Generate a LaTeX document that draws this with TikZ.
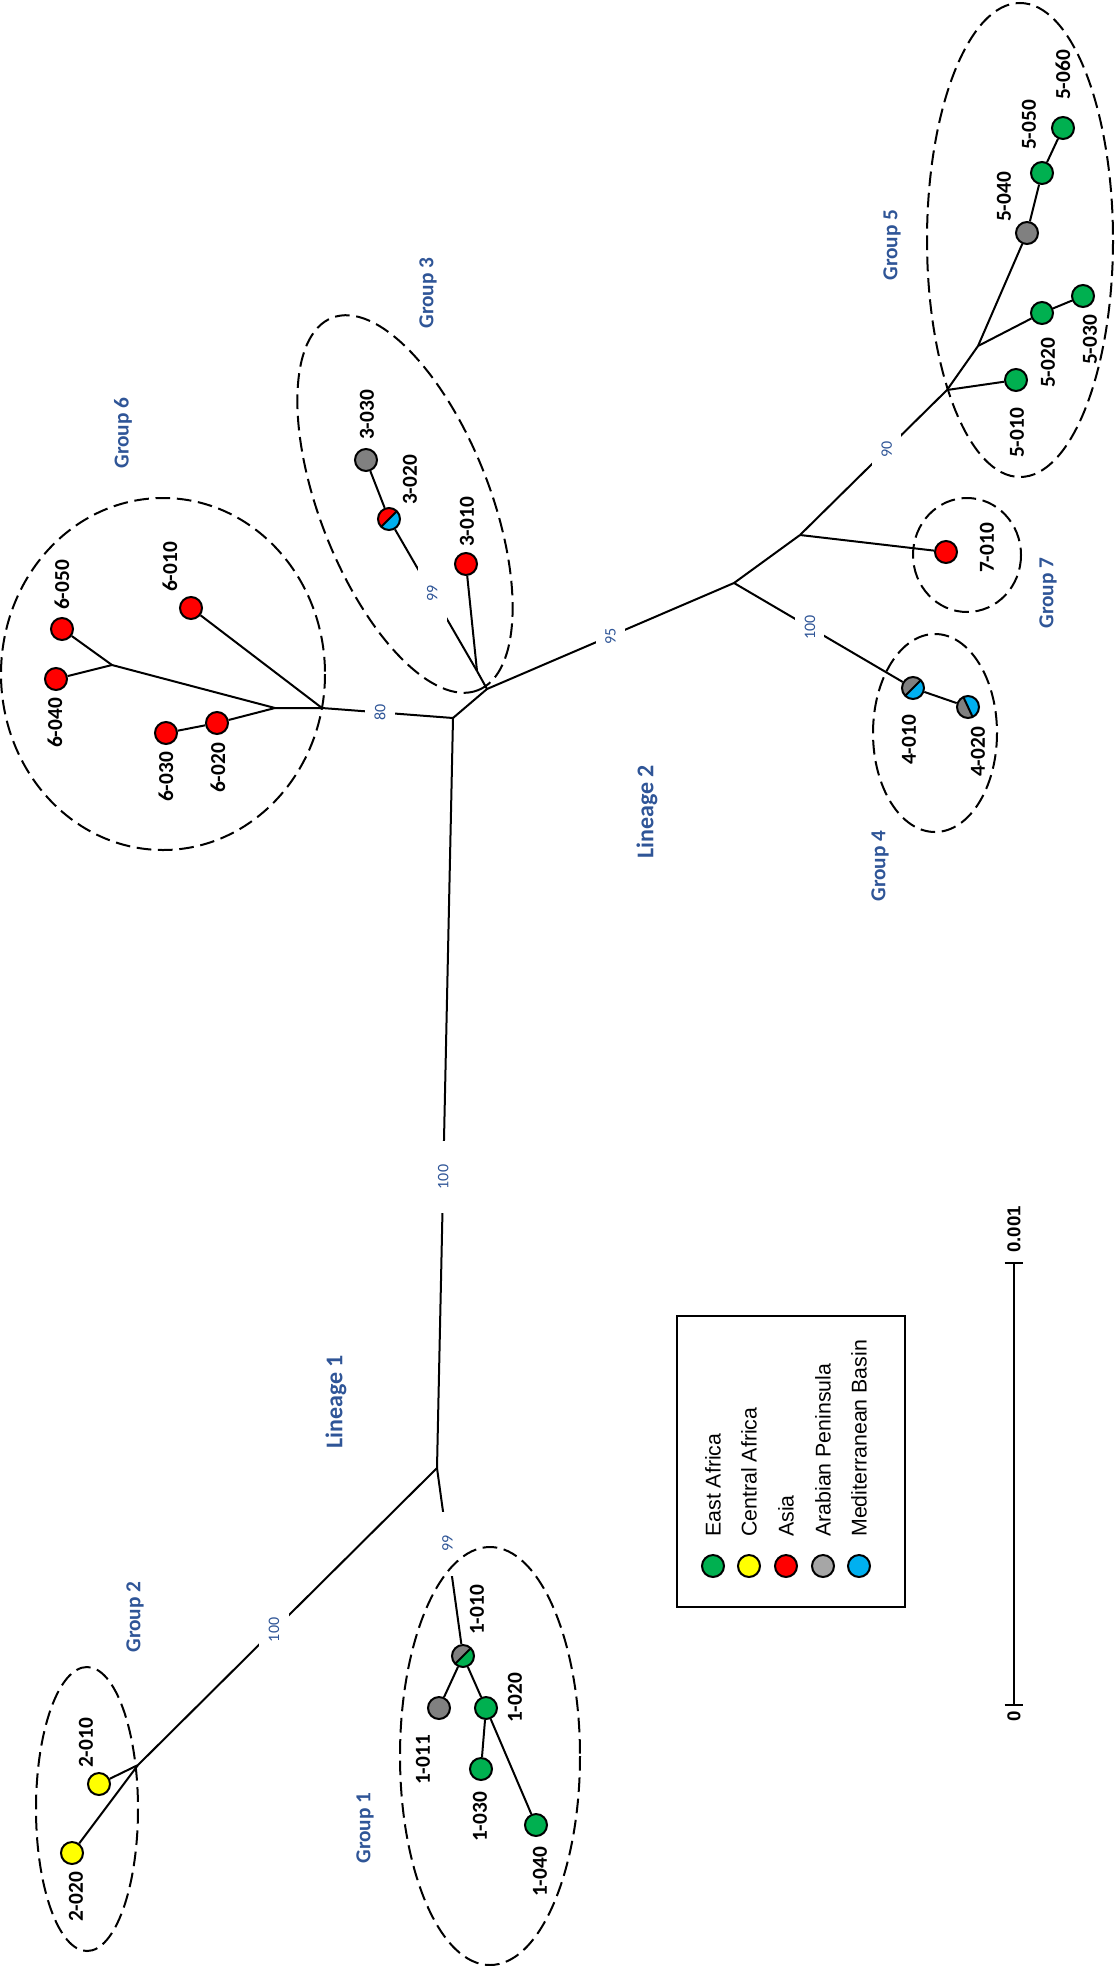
\documentclass[tikz,border=0pt]{standalone}
\usepackage{fontspec}
\setmainfont{Carlito}
\newfontfamily\arialfont{Liberation Sans}
\definecolor{grpblue}{HTML}{2F5597}
\definecolor{eaf}{HTML}{00B050}
\definecolor{caf}{HTML}{FFFF00}
\definecolor{asi}{HTML}{FF0000}
\definecolor{arb}{HTML}{808080}
\definecolor{arbl}{HTML}{A6A6A6}
\definecolor{med}{HTML}{00B0F0}
\tikzset{
  edge/.style={line width=1.5pt},
  leaf/.style={circle, draw, line width=1.5pt, minimum size=16.5pt, inner sep=0pt},
  split/.style n args={3}{leaf, fill=#2, path picture={
        \fill[#3] ([shift={(#1:20pt)}]path picture bounding box.center)
           -- ([shift={(#1+90:20pt)}]path picture bounding box.center)
           -- ([shift={(#1+180:20pt)}]path picture bounding box.center) -- cycle;
        \draw[line width=1.5pt] ([shift={(#1:20pt)}]path picture bounding box.center)
           -- ([shift={(#1+180:20pt)}]path picture bounding box.center);}},
  lbl/.style={font=\bfseries\fontsize{16}{16}\selectfont, rotate=90, inner sep=0pt},
  grp/.style={text=grpblue, font=\bfseries\fontsize{16}{16}\selectfont, rotate=90, inner sep=0pt},
  lin/.style={text=grpblue, font=\bfseries\fontsize{18}{18}\selectfont, rotate=90, inner sep=0pt},
  bs/.style={text=grpblue, font=\fontsize{12}{12}\selectfont, rotate=90, fill=white, inner xsep=18pt, inner ysep=7pt},
  grpell/.style={dash pattern=on 11pt off 5pt, line width=1.5pt},
  legtxt/.style={font=\arialfont\fontsize{16}{16}\selectfont, rotate=90, anchor=west, inner sep=0pt},
  scaletxt/.style={font=\arialfont\bfseries\fontsize{14}{14}\selectfont, rotate=90, inner sep=0pt}
}
\begin{document}
\begin{tikzpicture}[x=0.75pt,y=-0.75pt]
\useasboundingbox (0,0) rectangle (1115,1966);

% internal junctions
\coordinate (l1) at (437,1468);
\coordinate (j2) at (138,1765);
\coordinate (l2) at (453,718);
\coordinate (a6) at (322,708);
\coordinate (b6) at (275,708);
\coordinate (c6) at (112,665);
\coordinate (d) at (487,689);
\coordinate (e3) at (477,671);
\coordinate (f) at (734,583);
\coordinate (g) at (800,535);
\coordinate (h) at (947,390);
\coordinate (i5) at (978,346);

% leaves
\node[leaf, fill=caf] (n2010) at (99,1784) {};
\node[leaf, fill=caf] (n2020) at (72,1853) {};
\node[split={45}{eaf}{arb}] (n1010) at (463,1656) {};
\node[leaf, fill=arb] (n1011) at (439,1708) {};
\node[leaf, fill=eaf] (n1020) at (486,1708) {};
\node[leaf, fill=eaf] (n1030) at (481,1769) {};
\node[leaf, fill=eaf] (n1040) at (536,1825) {};
\node[leaf, fill=asi] (n6010) at (191,608) {};
\node[leaf, fill=asi] (n6020) at (217,723) {};
\node[leaf, fill=asi] (n6030) at (166,733) {};
\node[leaf, fill=asi] (n6040) at (56,679) {};
\node[leaf, fill=asi] (n6050) at (62,629) {};
\node[leaf, fill=asi] (n3010) at (466,564) {};
\node[split={45}{med}{asi}] (n3020) at (389,519) {};
\node[leaf, fill=arb] (n3030) at (366,460) {};
\node[split={45}{med}{arb}] (n4010) at (913,688) {};
\node[split={115}{med}{arb}] (n4020) at (968,707) {};
\node[leaf, fill=asi] (n7010) at (946,552) {};
\node[leaf, fill=eaf] (n5010) at (1016,380) {};
\node[leaf, fill=eaf] (n5020) at (1042,313) {};
\node[leaf, fill=eaf] (n5030) at (1083,296) {};
\node[leaf, fill=arb] (n5040) at (1027,233) {};
\node[leaf, fill=eaf] (n5050) at (1042,173) {};
\node[leaf, fill=eaf] (n5060) at (1063,128) {};

% edges
\draw[edge] (l1) -- node[bs, pos=0.545] {100} (j2);
\draw[edge] (j2) -- (n2010);
\draw[edge] (j2) -- (n2020);
\draw[edge] (l1) -- node[bs, pos=0.43] {99} (n1010);
\draw[edge] (n1010) -- (n1011);
\draw[edge] (n1010) -- (n1020);
\draw[edge] (n1020) -- (n1030);
\draw[edge] (n1020) -- (n1040);
\draw[edge] (l1) -- node[bs, pos=0.388] {100} (l2);
\draw[edge] (l2) -- node[bs, pos=0.557] {80} (a6);
\draw[edge] (a6) -- (n6010);
\draw[edge] (a6) -- (b6) -- (c6);
\draw[edge] (b6) -- (n6020);
\draw[edge] (n6020) -- (n6030);
\draw[edge] (c6) -- (n6050);
\draw[edge] (c6) -- (n6040);
\draw[edge] (l2) -- (d) -- (e3);
\draw[edge] (e3) -- node[bs, pos=0.546] {99} (n3020);
\draw[edge] (n3020) -- (n3030);
\draw[edge] (e3) -- (n3010);
\draw[edge] (d) -- node[bs, pos=0.5] {95} (f);
\draw[edge] (f) -- node[bs, pos=0.45] {100} (n4010);
\draw[edge] (n4010) -- (n4020);
\draw[edge] (f) -- (g);
\draw[edge] (g) -- (n7010);
\draw[edge] (g) -- node[bs, pos=0.59] {90} (h);
\draw[edge] (h) -- (n5010);
\draw[edge] (h) -- (i5);
\draw[edge] (i5) -- (n5020);
\draw[edge] (n5020) -- (n5030);
\draw[edge] (i5) -- (n5040);
\draw[edge] (n5040) -- (n5050);
\draw[edge] (n5050) -- (n5060);

% group outlines
\draw[grpell] (87,1809) ellipse [x radius=51, y radius=142];
\draw[grpell] (490,1756) ellipse [x radius=90, y radius=209];
\draw[grpell] (163,674) ellipse [x radius=162, y radius=176];
\draw[grpell, rotate around={-68.6:(405,504)}] (405,504) ellipse [x radius=200, y radius=85];
\draw[grpell] (1020,240) ellipse [x radius=93, y radius=237];
\draw[grpell] (967,555) ellipse [x radius=54, y radius=57];
\draw[grpell] (935,733) ellipse [x radius=62, y radius=99];

% leaf labels
\node[lbl] (t2010) at (86,1743) {2-010};
\node[lbl] (t2020) at (76,1897) {2-020};
\node[lbl] (t1010) at (477,1610) {1-010};
\node[lbl] (t1020) at (515,1698) {1-020};
\node[lbl] (t1011) at (423,1760) {1-011};
\node[lbl] (t1030) at (480,1817) {1-030};
\node[lbl] (t1040) at (540,1872) {1-040};
\node[lbl] (t6050) at (62,585) {6-050};
\node[lbl] (t6010) at (170,567) {6-010};
\node[lbl] (t6040) at (55,723) {6-040};
\node[lbl] (t6030) at (166,777) {6-030};
\node[lbl] (t6020) at (218,768) {6-020};
\node[lbl] (t3030) at (367,415) {3-030};
\node[lbl] (t3020) at (410,480) {3-020};
\node[lbl] (t3010) at (467,522) {3-010};
\node[lbl] (t5060) at (1063,75) {5-060};
\node[lbl] (t5050) at (1029,125) {5-050};
\node[lbl] (t5040) at (1004,197) {5-040};
\node[lbl] (t5030) at (1090,340) {5-030};
\node[lbl] (t5020) at (1048,363) {5-020};
\node[lbl] (t5010) at (1017,433) {5-010};
\node[lbl] (t7010) at (987,548) {7-010};
\node[lbl] (t4010) at (909,740) {4-010};
\node[lbl] (t4020) at (978,752) {4-020};

% group and lineage labels
\node[grp] (g1) at (365,1828) {Group 1};
\node[grp] (g2) at (135,1617) {Group 2};
\node[grp] (g3) at (428,293) {Group 3};
\node[grp] (g4) at (880,866) {Group 4};
\node[grp] (g5) at (892,245) {Group 5};
\node[grp] (g6) at (123,433) {Group 6};
\node[grp] (g7) at (1048,593) {Group 7};
\node[lin] (lin1) at (336,1402) {Lineage 1};
\node[lin] (lin2) at (647,812) {Lineage 2};

% legend
\draw[line width=1.5pt] (677,1316) rectangle (905,1607);
\node[leaf, fill=eaf] (k1) at (713,1566) {};
\node[leaf, fill=caf] (k2) at (749,1566) {};
\node[leaf, fill=asi] (k3) at (786,1566) {};
\node[leaf, fill=arbl] (k4) at (823,1566) {};
\node[leaf, fill=med] (k5) at (859,1566) {};
\node[legtxt] (kt1) at (713,1537) {East Africa};
\node[legtxt] (kt2) at (749,1537) {Central Africa};
\node[legtxt] (kt3) at (786,1537) {Asia};
\node[legtxt] (kt4) at (823,1537) {Arabian Peninsula};
\node[legtxt] (kt5) at (859,1537) {Mediterranean Basin};

% scale bar
\coordinate (s0) at (1014,1705);
\coordinate (s1) at (1014,1263);
\draw[line width=1.5pt] (s0) -- (s1);
\draw[line width=1.5pt] ([xshift=-7pt]s0) -- ([xshift=7pt]s0);
\draw[line width=1.5pt] ([xshift=-7pt]s1) -- ([xshift=7pt]s1);
\node[scaletxt, anchor=west] (st1) at (1014,1253) {0.001};
\node[scaletxt, anchor=east] (st0) at (1014,1711) {0};
\end{tikzpicture}
\end{document}
